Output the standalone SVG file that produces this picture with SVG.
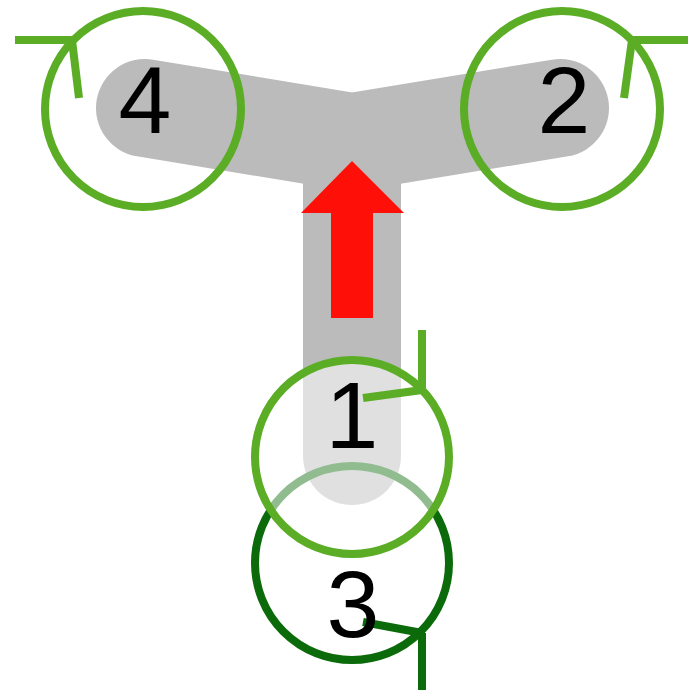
<svg xmlns="http://www.w3.org/2000/svg" width="700" height="700" viewBox="0 0 700 700">
<style>
.road{fill:none;stroke:#bbbbbb;stroke-width:98;stroke-linecap:round;stroke-linejoin:miter}
.lg{stroke:#5aad25;stroke-width:8;fill:none}
.dg{stroke:#0b6b0b;stroke-width:8;fill:none}
.lbl{font-family:"Liberation Sans",Arial,sans-serif;font-size:95px;fill:#000;text-anchor:middle}
</style>
<rect width="700" height="700" fill="#fff"/>
<g id="connectors">
<path class="road" d="M145,108 L352,142 L560,108"/>
<path class="road" d="M352,142 L352,456"/>
</g>
<g id="node3">
<circle class="dg" cx="352" cy="563" r="97"/>
<path class="dg" d="M363,622 L422,633 M422,633 L422,690"/>
<text class="lbl" x="353" y="637">3</text>
</g>
<g id="node1">
<circle class="lg" cx="352" cy="457" r="97" fill="#ffffff" fill-opacity="0.55" style="fill:#ffffff;fill-opacity:0.55"/>
<path class="lg" d="M363,398 L422,390 M422,330 L422,392"/>
<text class="lbl" x="352" y="448">1</text>
</g>
<g id="node4">
<circle class="lg" cx="143" cy="109" r="98"/>
<path class="lg" d="M15,40 L72,40 M72,40 L79,98"/>
<text class="lbl" x="145" y="133">4</text>
</g>
<g id="node2">
<circle class="lg" cx="562" cy="109" r="98"/>
<path class="lg" d="M688,40 L632,40 M632,40 L624,98"/>
<text class="lbl" x="564" y="133">2</text>
</g>
<g id="arrow">
<polygon points="352,161 404,213 373,213 373,318 331,318 331,213 301,213" fill="#fe0f08"/>
</g>
</svg>
